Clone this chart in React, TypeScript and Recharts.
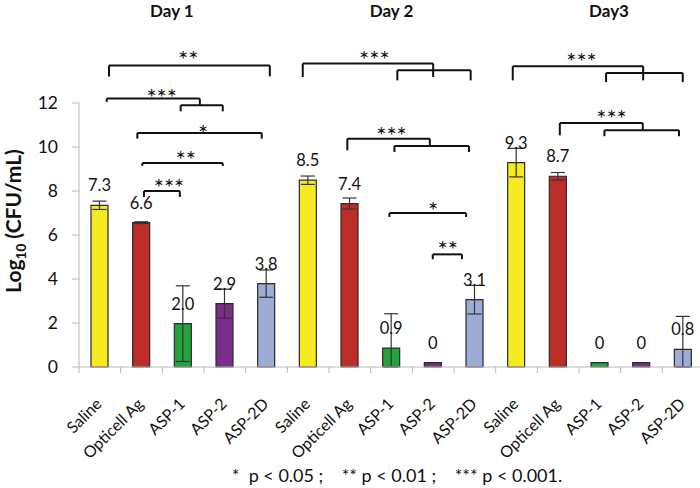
import React from 'react';
import { BarChart, Bar, XAxis, YAxis, ErrorBar, Cell, LabelList, ReferenceLine, ReferenceDot } from 'recharts';

const FONT = 'Lato, "Open Sans", sans-serif';

const DAYS = ['Day 1', 'Day 2', 'Day3'];
const TREATMENTS = ['Saline', 'Opticell Ag', 'ASP-1', 'ASP-2', 'ASP-2D'];
const COLORS = ['#F6EB21', '#BE2D27', '#24A23C', '#7A2D8B', '#9EABD6'];

// bar heights (log10 CFU/mL); the "0" groups are drawn as a thin sliver in the original
const DAY1_VALUES = [7.35, 6.56, 1.97, 2.88, 3.79];
const DAY2_VALUES = [8.49, 7.43, 0.86, 0.2, 3.06];
const DAY3_VALUES = [9.29, 8.67, 0.2, 0.2, 0.8];

const DAY1_LABELS = ['7.3', '6.6', '2.0', '2.9', '3.8'];
const DAY2_LABELS = ['8.5', '7.4', '0.9', '0', '3.1'];
const DAY3_LABELS = ['9.3', '8.7', '0', '0', '0.8'];

// error [minus, plus]
const DAY1_ERR = [[0.19, 0.19], [0.04, 0.04], [1.72, 1.72], [0.66, 0.66], [0.62, 0.62]];
const DAY2_ERR = [[0.19, 0.19], [0.25, 0.25], [0.86, 1.56], null, [0.65, 0.65]];
const DAY3_ERR = [[0.65, 0.65], [0.17, 0.17], null, null, [0.8, 1.5]];

const Y_TICKS = [0, 2, 4, 6, 8, 10, 12];

const VALUES = [DAY1_VALUES, DAY2_VALUES, DAY3_VALUES];
const LABELS = [DAY1_LABELS, DAY2_LABELS, DAY3_LABELS];
const ERRS = [DAY1_ERR, DAY2_ERR, DAY3_ERR];

const data = DAYS.flatMap((d, di) =>
  TREATMENTS.map((t, ti) => ({
    id: `${di}-${ti}`,
    slot: di * TREATMENTS.length + ti + 0.5,
    name: t,
    value: VALUES[di][ti],
    label: LABELS[di][ti],
    err: ERRS[di][ti],
    color: COLORS[ti],
  }))
);

// significance brackets, in (category-slot, value) units of the hidden numeric x axis
const BRACKETS = [
  // Day 1
  { x1: 0.72, x2: 4.58, y: 13.71, y1: 13.21, y2: 13.21 },
  { x1: 0.665, x2: 2.9, y: 12.2, y1: 12.05, y2: 11.9 },
  { x1: 2.44, x2: 3.45, y: 11.9, y1: 11.62, y2: 11.62 },
  { x1: 1.4, x2: 4.385, y: 10.64, y1: 10.38, y2: 10.38 },
  { x1: 1.52, x2: 3.45, y: 9.27, y1: 9.14, y2: 9.14 },
  { x1: 1.56, x2: 2.42, y: 8.0, y1: 7.73, y2: 7.73 },
  // Day 2
  { x1: 5.37, x2: 8.5, y: 13.79, y1: 13.18, y2: 13.18 },
  { x1: 7.64, x2: 9.4, y: 13.49, y1: 13.03, y2: 13.03 },
  { x1: 6.44, x2: 8.42, y: 10.38, y1: 9.85, y2: 10.05 },
  { x1: 7.57, x2: 9.36, y: 10.05, y1: 9.77, y2: 9.77 },
  { x1: 7.45, x2: 9.29, y: 7.0, y1: 6.82, y2: 6.82 },
  { x1: 8.49, x2: 9.19, y: 5.12, y1: 4.9, y2: 4.9 },
  // Day 3
  { x1: 10.41, x2: 13.54, y: 13.67, y1: 13.03, y2: 13.03 },
  { x1: 12.65, x2: 14.49, y: 13.36, y1: 12.95, y2: 12.95 },
  { x1: 11.54, x2: 13.53, y: 11.09, y1: 10.53, y2: 10.76 },
  { x1: 12.61, x2: 14.4, y: 10.76, y1: 10.49, y2: 10.49 },
];

const STARS = [
  { x: 2.62, y: 14.21, text: '**' },
  { x: 1.985, y: 12.5, text: '***' },
  { x: 2.98, y: 10.86, text: '*' },
  { x: 2.56, y: 9.7, text: '**' },
  { x: 2.16, y: 8.41, text: '***' },
  { x: 7.09, y: 14.25, text: '***' },
  { x: 7.5, y: 10.76, text: '***' },
  { x: 8.5, y: 7.35, text: '*' },
  { x: 8.85, y: 5.58, text: '**' },
  { x: 12.06, y: 14.12, text: '***' },
  { x: 12.78, y: 11.55, text: '***' },
];

const DAY_TITLES = [
  { x: 2.23, y: 16.33, text: 'Day 1' },
  { x: 7.5, y: 16.33, text: 'Day 2' },
  { x: 12.72, y: 16.33, text: 'Day3' },
];

const AXIS_GRAY = '#BDB6B6';

const CatTick = (props: any) => {
  const { x, y, payload, index } = props;
  const off = payload && typeof payload.offset === 'number' && payload.offset > 0 ? payload.offset : 20.83;
  const entry = data.find((d) => d.id === payload.value);
  const name = entry ? entry.name : '';
  const i = payload.index ?? index;
  const ax = x + 3;
  const ay = y + 38;
  return (
    <g>
      <line x1={x - off} x2={x - off} y1={y} y2={y + 6} stroke={AXIS_GRAY} strokeWidth={1} />
      {i === data.length - 1 && (
        <line x1={x + off} x2={x + off} y1={y} y2={y + 6} stroke={AXIS_GRAY} strokeWidth={1} />
      )}
      <text
        x={ax}
        y={ay}
        transform={`rotate(-45, ${ax}, ${ay})`}
        textAnchor="end"
        fontSize={16}
        fontFamily={FONT}
        fill="#111"
      >
        {name}
      </text>
    </g>
  );
};

const ValueLabel = (props: any) => {
  const { x, y, width, value } = props;
  return (
    <text x={x + width / 2} y={y - 14} textAnchor="middle" fontSize={16.5} fontFamily={FONT} fill="#111">
      {value}
    </text>
  );
};

export default function App() {
  return (
    <div style={{ position: 'absolute', left: 0, top: 0, width: 700, height: 488, background: '#fff', fontFamily: FONT }}>
      <BarChart
        width={700}
        height={488}
        data={data}
        margin={{ top: 103, right: -4, bottom: 0, left: 0 }}
        barCategoryGap="30%"
      >
        <XAxis xAxisId="n" dataKey="slot" type="number" domain={[0, 15]} hide allowDataOverflow />
        <XAxis
          dataKey="id"
          height={121}
          interval={0}
          axisLine={{ stroke: AXIS_GRAY, strokeWidth: 1 }}
          tickLine={false}
          tickSize={0}
          tickMargin={0}
          tick={<CatTick />}
        />
        <YAxis
          width={79}
          domain={[0, 12]}
          ticks={Y_TICKS}
          interval={0}
          tickSize={7}
          tickMargin={14}
          axisLine={{ stroke: AXIS_GRAY, strokeWidth: 1 }}
          tickLine={{ stroke: AXIS_GRAY, strokeWidth: 1 }}
          tick={{ fill: '#111', fontSize: 17.5, fontFamily: FONT }}
        />
        <Bar dataKey="value" barSize={17} stroke="#2a2a2a" strokeWidth={1.2} isAnimationActive={false}>
          {data.map((d) => (
            <Cell key={d.id} fill={d.color} />
          ))}
          <ErrorBar dataKey="err" width={7} stroke="#333" strokeWidth={1.2} direction="y" />
          <LabelList dataKey="label" content={<ValueLabel />} />
        </Bar>
        {BRACKETS.flatMap((b, i) => [
          <ReferenceLine
            key={`h${i}`}
            xAxisId="n"
            ifOverflow="visible"
            segment={[{ x: b.x1, y: b.y }, { x: b.x2, y: b.y }]}
            stroke="#111"
            strokeWidth={2}
          />,
          <ReferenceLine
            key={`l${i}`}
            xAxisId="n"
            ifOverflow="visible"
            segment={[{ x: b.x1, y: b.y }, { x: b.x1, y: b.y1 }]}
            stroke="#111"
            strokeWidth={2}
          />,
          <ReferenceLine
            key={`r${i}`}
            xAxisId="n"
            ifOverflow="visible"
            segment={[{ x: b.x2, y: b.y }, { x: b.x2, y: b.y2 }]}
            stroke="#111"
            strokeWidth={2}
          />,
        ])}
        {STARS.map((s, i) => (
          <ReferenceDot
            key={`s${i}`}
            xAxisId="n"
            x={s.x}
            y={s.y}
            ifOverflow="visible"
            shape={(p: any) => (
              <text
                x={p.cx}
                y={p.cy + 14}
                textAnchor="middle"
                fontSize={24}
                fontFamily={FONT}
                fill="#111"
              >
                {s.text}
              </text>
            )}
          />
        ))}
        {DAY_TITLES.map((s, i) => (
          <ReferenceDot
            key={`d${i}`}
            xAxisId="n"
            x={s.x}
            y={s.y}
            ifOverflow="visible"
            shape={(p: any) => (
              <text
                x={p.cx}
                y={p.cy + 9}
                textAnchor="middle"
                fontSize={17}
                fontWeight="bold"
                fontFamily={FONT}
                fill="#111"
              >
                {s.text}
              </text>
            )}
          />
        ))}
      </BarChart>
      <svg width={700} height={488} style={{ position: 'absolute', left: 0, top: 0, pointerEvents: 'none' }}>
        <text
          transform="translate(21, 221) rotate(-90)"
          textAnchor="middle"
          fontSize={21}
          fontWeight="bold"
          fontFamily={FONT}
          fill="#111"
        >
          Log<tspan fontSize={13.5} dy={5}>10</tspan>
          <tspan dy={-5}> (CFU/mL)</tspan>
        </text>
        <text x={397} y={482} textAnchor="middle" fontSize={18} fontFamily={FONT} fill="#111" style={{ whiteSpace: 'pre' }}>
          {'*  p < 0.05 ;    ** p < 0.01 ;    *** p < 0.001.'}
        </text>
      </svg>
    </div>
  );
}
